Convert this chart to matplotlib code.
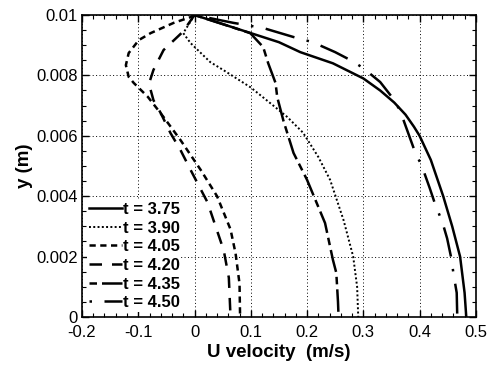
import matplotlib
matplotlib.use("Agg")
import matplotlib.pyplot as plt
from matplotlib.ticker import MultipleLocator

plt.rcParams['font.family'] = ['Liberation Sans', 'DejaVu Sans']

# ---- data ----
u_375 = [0, 0.05, 0.1, 0.15, 0.188, 0.246, 0.3, 0.33, 0.355, 0.375, 0.39, 0.4, 0.42, 0.442, 0.458, 0.472, 0.48, 0.483]
y_375 = [0.01, 0.0097, 0.0094, 0.0091, 0.00877, 0.0084, 0.0079, 0.0075, 0.0071, 0.0067, 0.0063, 0.006, 0.0052, 0.004, 0.003, 0.002, 0.0008, 0.0]

u_390 = [0, -0.02, -0.007, 0.028, 0.051, 0.1, 0.14, 0.165, 0.193, 0.22, 0.241, 0.265, 0.282, 0.289, 0.291]
y_390 = [0.01, 0.0094, 0.00907, 0.00844, 0.00818, 0.0076, 0.007, 0.00662, 0.0061, 0.0053, 0.00454, 0.0032, 0.002, 0.001, 0.0]

u_405 = [0, -0.007, -0.037, -0.078, -0.099, -0.117, -0.122, -0.117, -0.108, -0.083, -0.055, -0.025, 0.011, 0.04, 0.064, 0.073, 0.08, 0.081]
y_405 = [0.01, 0.00993, 0.00974, 0.0094, 0.00917, 0.00874, 0.00834, 0.00795, 0.00775, 0.00729, 0.00662, 0.00586, 0.00487, 0.004, 0.0029, 0.0021, 0.0011, 0.0]

u_420 = [0, -0.021, -0.055, -0.073, -0.08, -0.078, -0.073, -0.06, -0.043, -0.025, -0.007, 0.023, 0.052, 0.061, 0.064]
y_420 = [0.01, 0.00944, 0.00884, 0.00818, 0.00778, 0.00752, 0.00718, 0.00675, 0.0061, 0.00553, 0.00487, 0.0038, 0.0022, 0.0013, 0.0]

u_435 = [0, 0.05, 0.099, 0.122, 0.131, 0.144, 0.147, 0.158, 0.176, 0.2, 0.215, 0.232, 0.246, 0.252, 0.255, 0.256]
y_435 = [0.01, 0.0097, 0.0094, 0.00894, 0.0084, 0.00775, 0.00728, 0.0065, 0.00543, 0.00454, 0.00387, 0.00311, 0.00189, 0.00146, 0.0005, 0.0]

u_450 = [0, 0.069, 0.122, 0.176, 0.21, 0.25, 0.28, 0.3, 0.33, 0.351, 0.365, 0.379, 0.392, 0.404, 0.418, 0.427, 0.441, 0.449, 0.457, 0.46, 0.466, 0.467]
y_450 = [0.01, 0.00974, 0.00957, 0.00927, 0.0091, 0.00877, 0.00848, 0.00824, 0.00778, 0.00728, 0.00685, 0.00613, 0.00546, 0.005, 0.00427, 0.00377, 0.00311, 0.0026, 0.00189, 0.00146, 0.0008, 0.0]

labels = ["t = 3.75", "t = 3.90", "t = 4.05", "t = 4.20", "t = 4.35", "t = 4.50"]

x_ticks = [-0.2, -0.1, 0, 0.1, 0.2, 0.3, 0.4, 0.5]
x_tick_labels = ["-0.2", "-0.1", "0", "0.1", "0.2", "0.3", "0.4", "0.5"]
y_ticks = [0, 0.002, 0.004, 0.006, 0.008, 0.01]
y_tick_labels = ["0", "0.002", "0.004", "0.006", "0.008", "0.01"]

# ---- figure ----
fig = plt.figure(figsize=(5.03, 3.66), dpi=100)
ax = fig.add_axes([0.163, 0.134, 0.783, 0.825])

series = [(u_375, y_375), (u_390, y_390), (u_405, y_405),
          (u_420, y_420), (u_435, y_435), (u_450, y_450)]
styles = [
    dict(linestyle='-', linewidth=1.8),
    dict(linestyle=(0, (1, 1.2)), linewidth=1.4),
    dict(linestyle=(0, (2.5, 1.8)), linewidth=1.8),
    dict(linestyle=(0, (5, 4)), linewidth=1.8),
    dict(linestyle=(0, (3, 2, 9, 2)), linewidth=1.8),
    dict(linestyle=(0, (1, 5, 12, 5)), linewidth=1.8),
]
for (u, y), st, lab in zip(series, styles, labels):
    ax.plot(u, y, color='black', label=lab, **st)

ax.set_xlim(-0.2, 0.5)
ax.set_ylim(0, 0.01)
ax.set_xticks(x_ticks)
ax.set_xticklabels(x_tick_labels)
ax.set_yticks(y_ticks)
ax.set_yticklabels(y_tick_labels)
ax.xaxis.set_minor_locator(MultipleLocator(0.02))
ax.yaxis.set_minor_locator(MultipleLocator(0.0005))
ax.tick_params(which='both', direction='in', top=True, right=True)
ax.tick_params(axis='x', which='major', length=5, width=1, labelsize=12, pad=6)
ax.tick_params(axis='y', which='major', length=5, width=1, labelsize=12, pad=3)
ax.tick_params(which='minor', length=3, width=0.8)
ax.grid(True, which='major', linestyle=(0, (1, 2.5)), color='black', linewidth=0.7)
for s in ax.spines.values():
    s.set_linewidth(1.2)

ax.set_xlabel("U velocity  (m/s)", fontsize=13.5, fontweight='bold', labelpad=3)
ax.set_ylabel("y (m)", fontsize=13.5, fontweight='bold', labelpad=2)

leg = ax.legend(loc='lower left', frameon=True, handlelength=2.0,
                handletextpad=0.05, labelspacing=0.22, borderpad=0.1,
                borderaxespad=0.3, prop={'weight': 'bold', 'size': 12})
leg.get_frame().set_edgecolor('none')
leg.get_frame().set_facecolor('white')
leg.get_frame().set_alpha(1)

fig.savefig("out.png", dpi=100)
